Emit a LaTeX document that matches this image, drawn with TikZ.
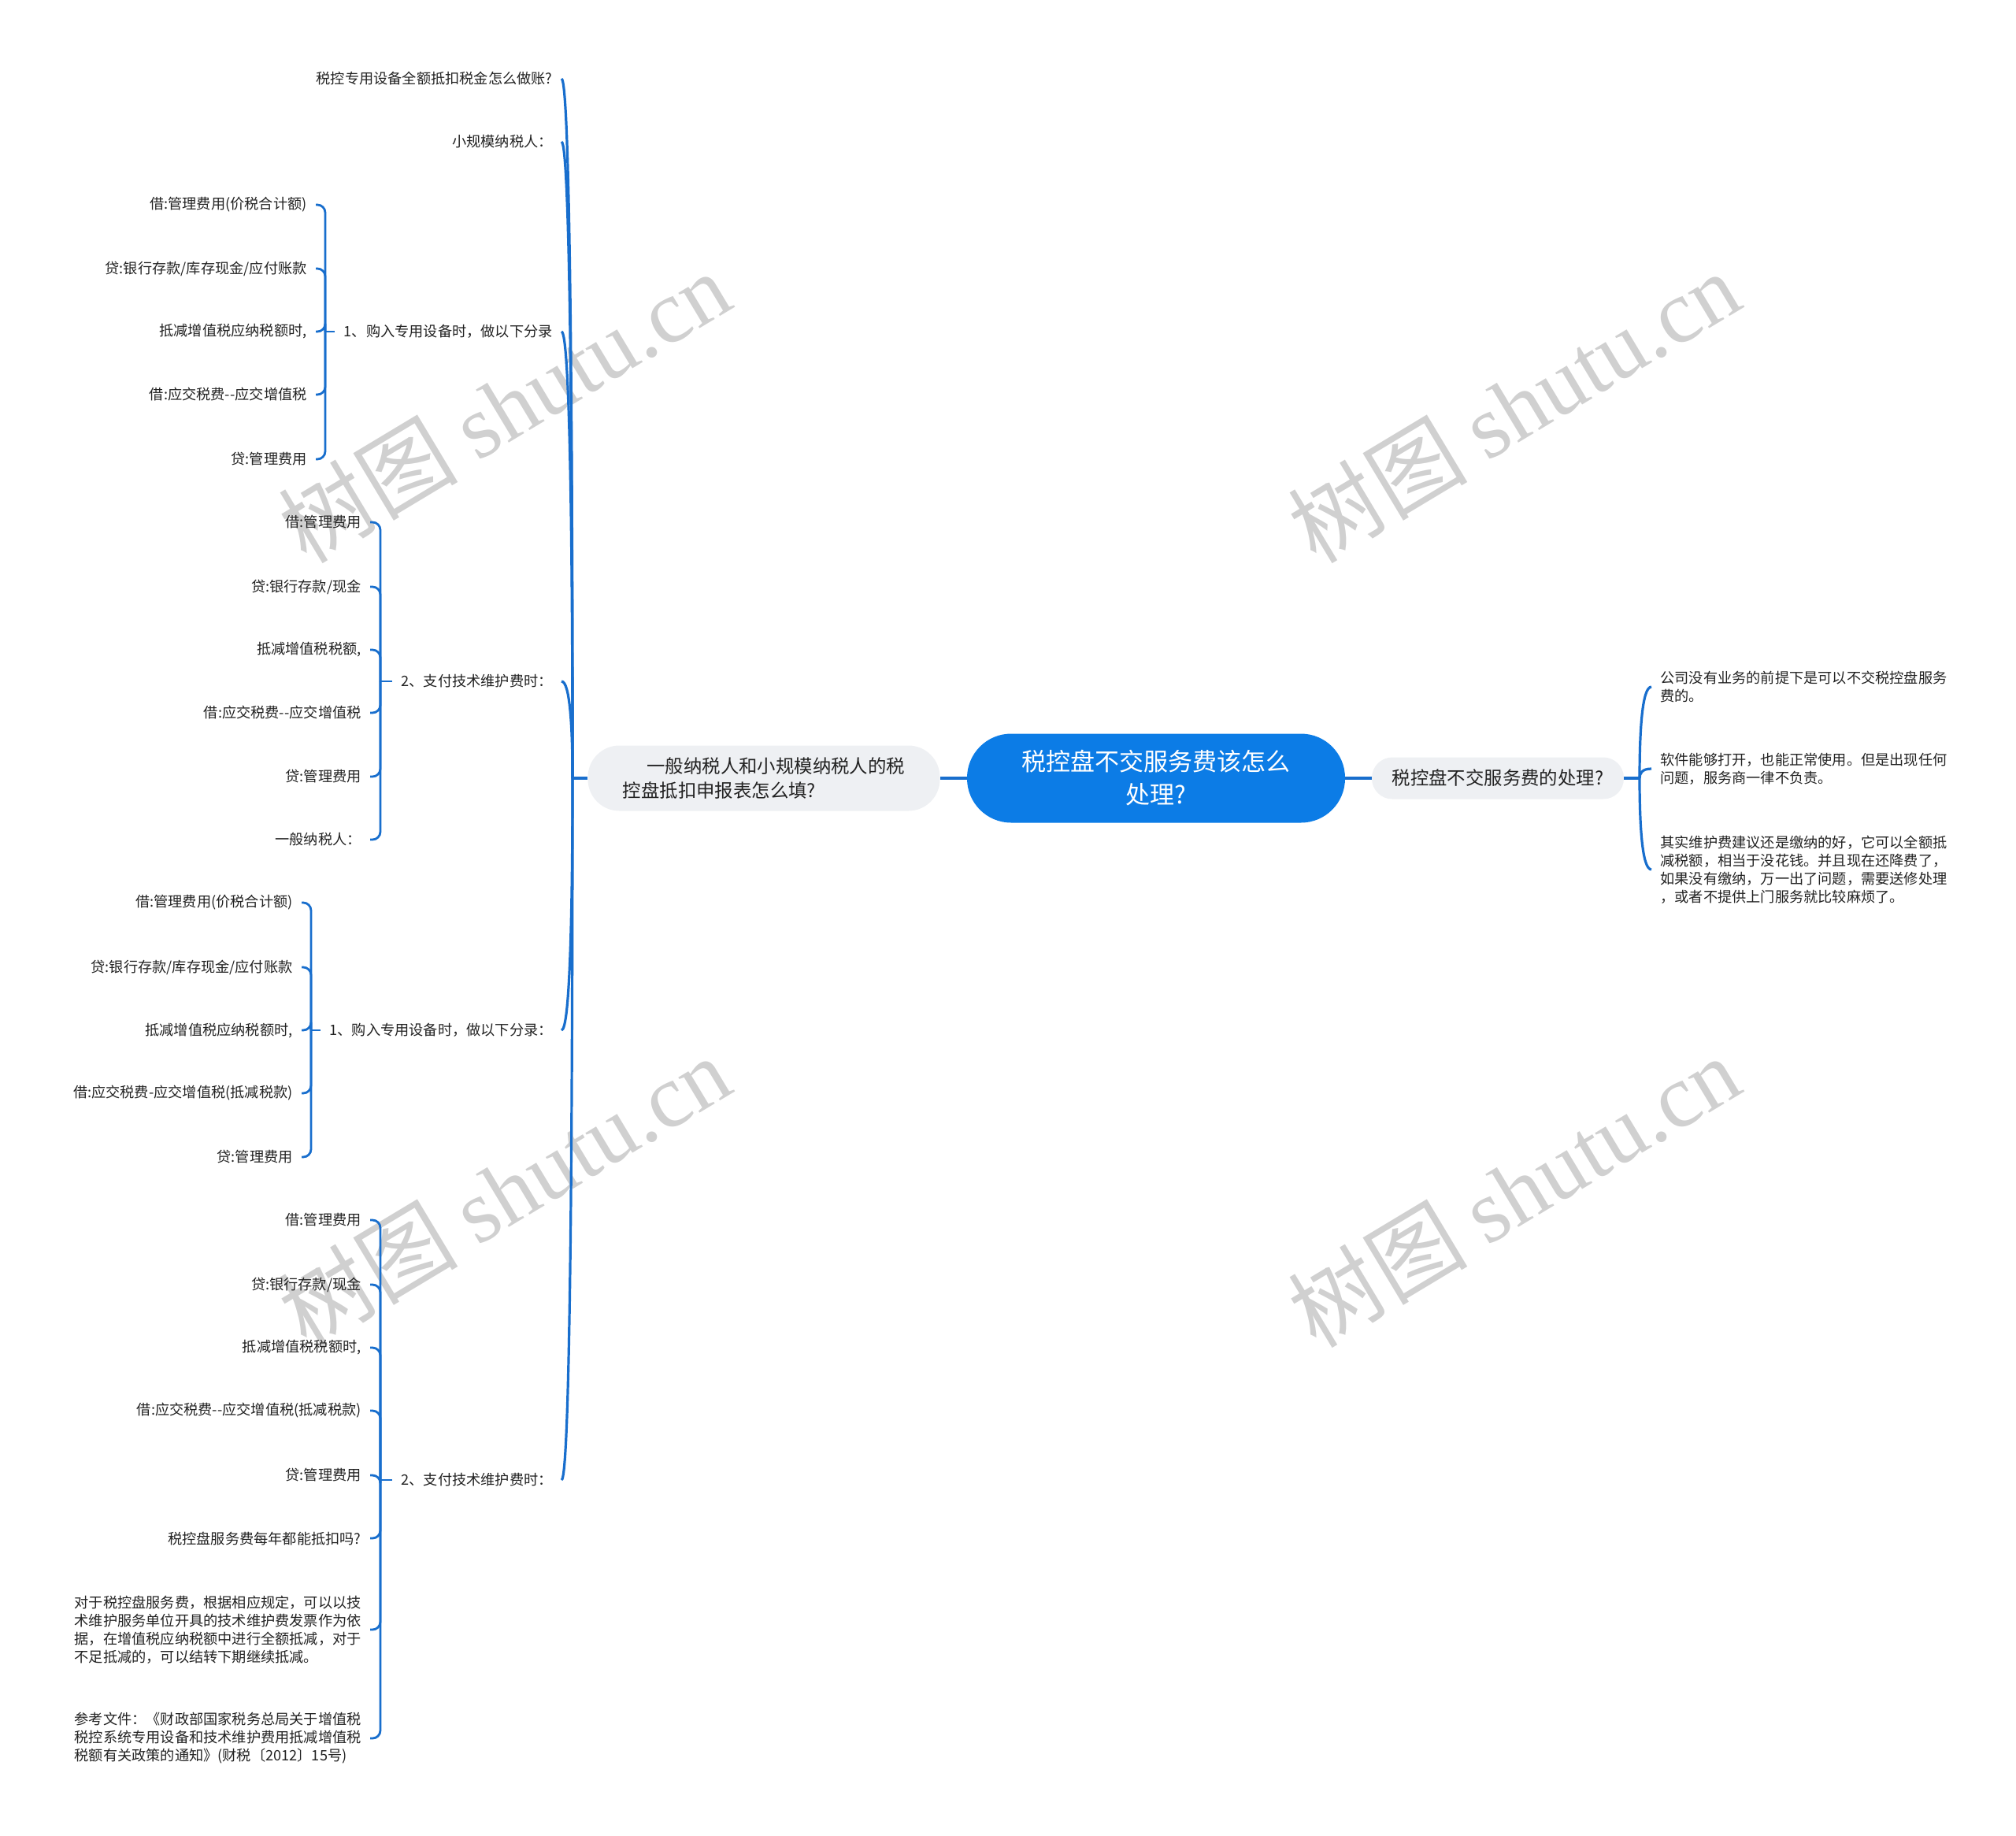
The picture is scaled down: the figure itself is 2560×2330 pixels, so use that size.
\documentclass[tikz,border=0pt]{standalone}
\usepackage{fontspec}
\setmainfont{Noto Sans CJK SC}
\newfontfamily\wmserif{Liberation Serif}
\definecolor{rootblue}{RGB}{12,124,230}
\definecolor{lineblue}{RGB}{24,110,205}
\definecolor{nodegray}{RGB}{238,240,243}
\definecolor{txt}{RGB}{34,34,34}
\definecolor{wmgray}{RGB}{208,208,208}
\begin{document}
\begin{tikzpicture}[x=0.5pt,y=-0.5pt,
  leaf/.style={font=\fontsize{9.1}{11.5}\selectfont, inner xsep=5.5pt, inner ysep=2pt, text=txt, align=left},
  leafL/.style={leaf, anchor=east},
  leafR/.style={leaf, anchor=west},
  conn/.style={draw=lineblue, line width=1.6pt},
  thinc/.style={draw=lineblue, line width=1.4pt, rounded corners=5pt},
  rootbox/.style={fill=rootblue, text=white, align=center, font=\fontsize{15.5}{21}\selectfont,
    minimum width=240pt, minimum height=56.5pt, rounded corners=28pt, inner sep=0pt},
  mainbox/.style={fill=nodegray, text=txt, font=\fontsize{11.7}{15.5}\selectfont, inner sep=0pt},
  wm/.style={text=wmgray, font=\fontsize{57}{57}\selectfont, rotate=31}
]
\useasboundingbox (0,0) rectangle (2560,2330);

% watermarks
\node[wm] (w1) at (640,516) {树图 {\wmserif shutu.cn}};
\node[wm] (w2) at (1922,516) {树图 {\wmserif shutu.cn}};
\node[wm] (w3) at (640,1512) {树图 {\wmserif shutu.cn}};
\node[wm] (w4) at (1922,1512) {树图 {\wmserif shutu.cn}};

% central nodes
\node[rootbox] (root) at (1468,988) {税控盘不交服务费该怎么\\处理?};
\node[mainbox, align=left, minimum width=223.5pt, minimum height=41.5pt, rounded corners=20pt] (lm) at (970,988)
  {\hspace*{1.3em}一般纳税人和小规模纳税人的税\\控盘抵扣申报表怎么填?};
\node[mainbox, minimum width=160pt, minimum height=26.5pt, rounded corners=13pt] (rm) at (1902,988)
  {税控盘不交服务费的处理?};

\draw[conn] (root.west) -- (lm.east);
\draw[conn] (root.east) -- (rm.west);

% right leaves
\node[leafR] (r1) at (2097,872) {公司没有业务的前提下是可以不交税控盘服务\\费的。};
\node[leafR] (r2) at (2097,976) {软件能够打开，也能正常使用。但是出现任何\\问题，服务商一律不负责。};
\node[leafR] (r3) at (2097,1104) {其实维护费建议还是缴纳的好，它可以全额抵\\减税额，相当于没花钱。并且现在还降费了，\\如果没有缴纳，万一出了问题，需要送修处理\\，或者不提供上门服务就比较麻烦了。};
\coordinate (pr) at (2082,988);
\draw[conn] (rm.east) -- (pr);
\foreach \n/\y in {r1/872, r2/976, r3/1104}
  \draw[conn] (pr) .. controls (2082,{(988+\y)/2}) and (2085,\y) .. (\n.west);

% left level-1 children
\node[leafL] (c1) at (713,100) {税控专用设备全额抵扣税金怎么做账?};
\node[leafL] (c2) at (713,180) {小规模纳税人：};
\node[leafL] (c3) at (713,421) {1、购入专用设备时，做以下分录};
\node[leafL] (c4) at (713,865) {2、支付技术维护费时：};
\node[leafL] (c5) at (713,1308) {1、购入专用设备时，做以下分录：};
\node[leafL] (c6) at (713,1879) {2、支付技术维护费时：};
\coordinate (pl) at (727,988);
\draw[conn] (lm.west) -- (pl);
\foreach \n/\y in {c1/100, c2/180, c3/421, c4/865, c5/1308, c6/1879}
  \draw[conn] (pl) .. controls (727,{(988+\y)/2}) and (724,\y) .. (\n.east);

% c3 children
\node[leafL] (a1) at (401,260) {借:管理费用(价税合计额)};
\node[leafL] (a2) at (401,341) {贷:银行存款/库存现金/应付账款};
\node[leafL] (a3) at (401,421) {抵减增值税应纳税额时,};
\node[leafL] (a4) at (401,501) {借:应交税费-{}-应交增值税};
\node[leafL] (a5) at (401,583) {贷:管理费用};
\coordinate (b3) at (413,421);
\draw[thinc] (c3.west) -- (b3);
\foreach \n in {a1,a2,a3,a4,a5} \draw[thinc] (b3) |- (\n.east);

% c4 children
\node[leafL] (d1) at (470,663) {借:管理费用};
\node[leafL] (d2) at (470,745) {贷:银行存款/现金};
\node[leafL] (d3) at (470,825) {抵减增值税税额,};
\node[leafL] (d4) at (470,905) {借:应交税费-{}-应交增值税};
\node[leafL] (d5) at (470,986) {贷:管理费用};
\node[leafL] (d6) at (470,1066) {一般纳税人：};
\coordinate (b4) at (483,865);
\draw[thinc] (c4.west) -- (b4);
\foreach \n in {d1,d2,d3,d4,d5,d6} \draw[thinc] (b4) |- (\n.east);

% c5 children
\node[leafL] (e1) at (383,1146) {借:管理费用(价税合计额)};
\node[leafL] (e2) at (383,1228) {贷:银行存款/库存现金/应付账款};
\node[leafL] (e3) at (383,1308) {抵减增值税应纳税额时,};
\node[leafL] (e4) at (383,1388) {借:应交税费-应交增值税(抵减税款)};
\node[leafL] (e5) at (383,1469) {贷:管理费用};
\coordinate (b5) at (395,1308);
\draw[thinc] (c5.west) -- (b5);
\foreach \n in {e1,e2,e3,e4,e5} \draw[thinc] (b5) |- (\n.east);

% c6 children
\node[leafL] (f1) at (470,1549) {借:管理费用};
\node[leafL] (f2) at (470,1631) {贷:银行存款/现金};
\node[leafL] (f3) at (470,1711) {抵减增值税税额时,};
\node[leafL] (f4) at (470,1791) {借:应交税费-{}-应交增值税(抵减税款)};
\node[leafL] (f5) at (470,1873) {贷:管理费用};
\node[leafL] (f6) at (470,1953) {税控盘服务费每年都能抵扣吗?};
\node[leafL] (f7) at (470,2069) {对于税控盘服务费，根据相应规定，可以以技\\术维护服务单位开具的技术维护费发票作为依\\据，在增值税应纳税额中进行全额抵减，对于\\不足抵减的，可以结转下期继续抵减。};
\node[leafL] (f8) at (470,2207) {参考文件：《财政部国家税务总局关于增值税\\税控系统专用设备和技术维护费用抵减增值税\\税额有关政策的通知》(财税〔2012〕15号)};
\coordinate (b6) at (483,1879);
\draw[thinc] (c6.west) -- (b6);
\foreach \n in {f1,f2,f3,f4,f5,f6,f7,f8} \draw[thinc] (b6) |- (\n.east);

\end{tikzpicture}
\end{document}
